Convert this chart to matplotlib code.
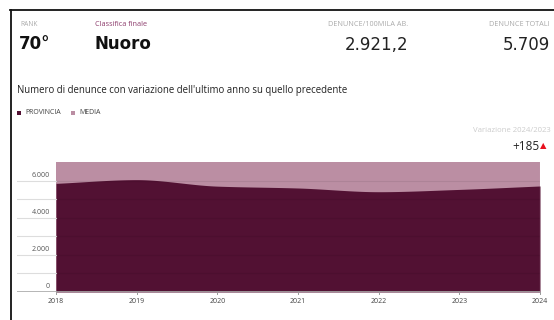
import numpy as np
import matplotlib.pyplot as plt
from matplotlib.lines import Line2D
from matplotlib.patches import Rectangle

plt.rcParams['font.family'] = ['Open Sans', 'DejaVu Sans']

years = [2018, 2019, 2020, 2021, 2022, 2023, 2024]
provincia = [5850, 6050, 5700, 5600, 5400, 5524, 5709]
media = [7000, 7000, 7000, 7000, 7000, 7000, 7000]
yticks = [0, 2000, 4000, 6000]
ytick_labels = ['0', '2.000', '4.000', '6.000']
minor_ticks = [1000, 3000, 5000]

dark = '#521133'
light = '#bb8ea3'


def monotone(x, y, n=40):
    # monotone cubic curve between the points (like d3 curveMonotoneX)
    x = np.asarray(x, float)
    y = np.asarray(y, float)
    h = np.diff(x)
    d = np.diff(y) / h
    m = np.zeros_like(y)
    m[0], m[-1] = d[0], d[-1]
    for i in range(1, len(y) - 1):
        if d[i - 1] * d[i] > 0:
            m[i] = 2 / (1 / d[i - 1] + 1 / d[i])
    xs, ys = [], []
    for i in range(len(h)):
        t = np.linspace(0, 1, n, endpoint=False)
        h00 = 2 * t**3 - 3 * t**2 + 1
        h10 = t**3 - 2 * t**2 + t
        h01 = -2 * t**3 + 3 * t**2
        h11 = t**3 - t**2
        xs.append(x[i] + t * h[i])
        ys.append(h00 * y[i] + h10 * h[i] * m[i] + h01 * y[i + 1] + h11 * h[i] * m[i + 1])
    xs.append([x[-1]])
    ys.append([y[-1]])
    return np.concatenate(xs), np.concatenate(ys)


W, H = 554, 320
fig = plt.figure(figsize=(W / 100, H / 100), dpi=100)

# axes from the left gridline start to the right end of the plot
ax = fig.add_axes([17 / W, 1 - 292 / H, (540 - 17) / W, 130 / H])
px_per_year = (540 - 56) / 6
x0 = 2018 - 39 / px_per_year
ax.set_xlim(x0, 2024)
ax.set_ylim(0, 7000)
ax.axis('off')

ax.fill_between(years, 0, media, color=light, lw=0, zorder=1)
xs, ys = monotone(years, provincia)
ax.fill_between(xs, 0, ys, color=dark, lw=0, zorder=2)

# gridlines: light grey left of the plot, faint darker stripes over the areas
for v in yticks + minor_ticks:
    ax.plot([x0, 2018], [v, v], color='#dddddd', lw=0.8, zorder=3)
    ax.plot([2018, 2024], [v, v], color='#000000', alpha=0.07, lw=0.8, zorder=3)
ax.axhline(0, color='#aaaaaa', lw=1.2, zorder=4)
ax.plot([2024, 2024], [0, 7000], color='#d8c4ce', lw=0.8, zorder=3)

for v, lab in zip(yticks, ytick_labels):
    ax.annotate(lab, (2018, v), xytext=(-4.5, 1.2), textcoords='offset points',
                ha='right', va='bottom', fontsize=5, color='#555555')
for yr in years:
    ax.plot([yr, yr], [0, -90], color='#999999', lw=0.7, clip_on=False, zorder=4)
    ax.annotate(str(yr), (yr, 0), xytext=(0, -4), textcoords='offset points',
                ha='center', va='top', fontsize=5, color='#444444')

# frame lines
fig.add_artist(Line2D([10 / W, 1], [1 - 9.5 / H] * 2, color='#111111', lw=1.3))
fig.add_artist(Line2D([10.5 / W] * 2, [0, 1 - 9.5 / H], color='#111111', lw=1.3))


def ftext(x, y, s, **kw):
    fig.text(x / W, 1 - y / H, s, va='center', **kw)


ftext(20, 24, 'RANK', fontsize=4.8, color='#aaaaaa')
ftext(19, 44, '70°', fontsize=12, fontweight='bold', color='#111111', family='DejaVu Sans')
ftext(95, 24, 'Classifica finale', fontsize=5.2, color='#8b3a6a')
ftext(95, 44, 'Nuoro', fontsize=12, fontweight='bold', color='#111111', family='DejaVu Sans')
ftext(408, 25, 'DENUNCE/100MILA AB.', fontsize=5.2, color='#aaaaaa', ha='right')
ftext(408, 45, '2.921,2', fontsize=12, color='#222222', ha='right', family='DejaVu Sans')
ftext(550, 25, 'DENUNCE TOTALI', fontsize=5.2, color='#aaaaaa', ha='right')
ftext(550, 45, '5.709', fontsize=12, color='#222222', ha='right', family='DejaVu Sans')

ftext(17, 91, "Numero di denunce con variazione dell'ultimo anno su quello precedente",
      fontsize=6.9, color='#222222')

fig.add_artist(Rectangle((17 / W, 1 - 114.5 / H), 4 / W, 4 / H, color=dark, lw=0))
ftext(25, 112.5, 'PROVINCIA', fontsize=5, color='#444444')
fig.add_artist(Rectangle((71 / W, 1 - 114.5 / H), 4 / W, 4 / H, color=light, lw=0))
ftext(79, 112.5, 'MEDIA', fontsize=5, color='#444444')

ftext(551, 130, 'Variazione 2024/2023', fontsize=5.6, color='#cccccc', ha='right')
ftext(539, 146, '+185', fontsize=8.5, color='#222222', ha='right')
ftext(540, 146.5, '▲', fontsize=6, color='#e8101e', ha='left')

fig.savefig('out.png', dpi=100)
